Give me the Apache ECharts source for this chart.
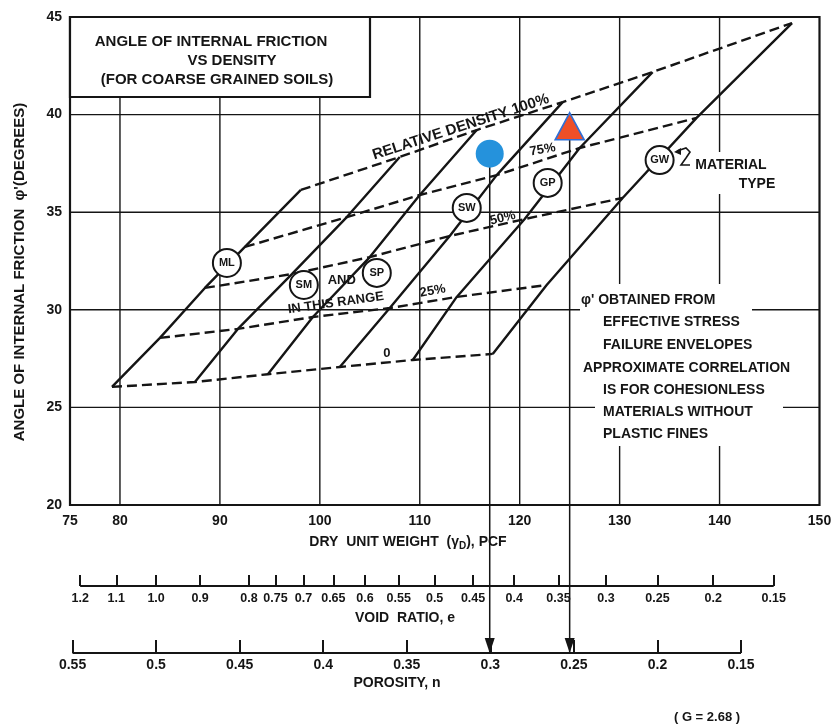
<!DOCTYPE html>
<html><head><meta charset="utf-8">
<script src="https://cdn.jsdelivr.net/npm/echarts@6/dist/echarts.min.js"></script>
<style>html,body{margin:0;padding:0;background:#fff}#c{width:831px;height:725px}</style>
</head><body><div id="c"></div>
<script>
// ---------------- data ----------------
const materials = ['ML', 'SM', 'SP', 'SW', 'GP', 'GW'];
// relative density lines (dry unit weight pcf, friction angle deg), one point per material
const rd0X   = [79.2, 87.5, 94.8, 102.0, 109.3, 117.3];
const rd0Y   = [26.05, 26.3, 26.7, 27.07, 27.43, 27.74];
const rd25X  = [84.0, 91.8, 99.3, 107.0, 113.7, 122.7];
const rd25Y  = [28.56, 29.02, 29.63, 30.09, 30.66, 31.27];
const rd50X  = [88.5, 97.2, 105.0, 113.0, 120.5, 130.3];
const rd50Y  = [31.12, 31.83, 32.7, 33.78, 34.65, 35.73];
const rd75X  = [92.5, 102.7, 110.0, 117.7, 126.0, 137.7];
const rd75Y  = [33.22, 34.75, 35.88, 36.9, 38.29, 39.83];
const rd100X = [98.1, 108.0, 115.7, 124.3, 133.3, 147.25];
const rd100Y = [36.14, 37.83, 39.21, 40.64, 42.18, 44.69];
// material label circles
const circleX = [90.7, 98.4, 105.7, 114.7, 122.8, 134.0];
const circleY = [32.4, 31.27, 31.89, 35.22, 36.5, 37.67];
// plotted test points: blue circle, red triangle
const pointX = [117.0, 125.0];
const pointY = [38.0, 39.4];
// in-plot annotations
const annotText = ['RELATIVE DENSITY 100%', '75%', '50%', '25%', '0', 'AND', 'IN THIS RANGE'];
const annotX = [114.1, 122.3, 118.3, 111.3, 106.7, 102.2, 101.6];
const annotY = [39.36, 38.2, 34.7, 30.96, 27.74, 31.5, 30.35];
const annotRot = [18, 10, 14, 10, 0, 0, 8];
// axes
const X_MIN = 75, X_MAX = 150, Y_MIN = 20, Y_MAX = 45;
const gridX = [80, 90, 100, 110, 120, 130, 140];
const gridY = [25, 30, 35, 40];
const voidRatioTicks  = [1.2, 1.1, 1.0, 0.9, 0.8, 0.75, 0.7, 0.65, 0.6, 0.55, 0.5, 0.45, 0.4, 0.35, 0.3, 0.25, 0.2, 0.15];
const voidRatioLabels = ['1.2','1.1','1.0','0.9','0.8','0.75','0.7','0.65','0.6','0.55','0.5','0.45','0.4','0.35','0.3','0.25','0.2','0.15'];
const porosityTicks  = [0.55, 0.5, 0.45, 0.4, 0.35, 0.3, 0.25, 0.2, 0.15];
const porosityLabels = ['0.55','0.5','0.45','0.4','0.35','0.3','0.25','0.2','0.15'];
const G = 2.68, GAMMA_W = 62.4;

// ---------------- drawing ----------------
const INK = '#151515';
const F = '"Liberation Sans", Arial, Helvetica, sans-serif';
const gammaFromE = e => G * GAMMA_W / (1 + e);
const gammaFromN = n => G * GAMMA_W * (1 - n);
const voidGamma = voidRatioTicks.map(gammaFromE);
const poroGamma = porosityTicks.map(gammaFromN);
const levelsX = [rd0X, rd25X, rd50X, rd75X, rd100X];
const levelsY = [rd0Y, rd25Y, rd50Y, rd75Y, rd100Y];

function lookup(vals, labels) {
  return v => { const i = vals.findIndex(g => Math.abs(g - v) < 1e-6); return i >= 0 ? labels[i] : ''; };
}

const series = [];
gridX.forEach(v => series.push({type:'line', xAxisIndex:0, yAxisIndex:0, data:[[v, Y_MIN], [v, Y_MAX]],
  symbol:'none', silent:true, z:1, lineStyle:{color:INK, width:1.4}}));
gridY.forEach(v => series.push({type:'line', xAxisIndex:0, yAxisIndex:0, data:[[X_MIN, v], [X_MAX, v]],
  symbol:'none', silent:true, z:1, lineStyle:{color:INK, width:1.4}}));
// material (solid) lines
materials.forEach((m, i) => series.push({type:'line', xAxisIndex:0, yAxisIndex:0,
  data: levelsX.map((lx, k) => [lx[i], levelsY[k][i]]), symbol:'none', z:3,
  lineStyle:{color:INK, width:2.4}}));
// relative density (dashed) lines
levelsX.forEach((lx, k) => series.push({type:'line', xAxisIndex:0, yAxisIndex:0,
  data: materials.map((m, i) => [lx[i], levelsY[k][i]]), symbol:'none', z:3,
  lineStyle:{color:INK, width:2.4, type:[10, 5]}}));
// material circles
series.push({type:'scatter', xAxisIndex:0, yAxisIndex:0, z:6,
  data: materials.map((m, i) => [circleX[i], circleY[i], m]),
  symbol:'circle', symbolSize:28, itemStyle:{color:'#fff', borderColor:INK, borderWidth:2, opacity:1},
  label:{show:true, position:'inside', formatter: p => p.data[2], color:INK, fontFamily:F,
    fontSize:11, fontWeight:'bold', textBorderWidth:0}});
// annotations
series.push({type:'scatter', xAxisIndex:0, yAxisIndex:0, z:7, silent:true,
  data: annotText.map((t, i) => ({value:[annotX[i], annotY[i]],
    label:{rotate:annotRot[i], formatter:t, fontSize: i === 0 ? 15 : 13}})),
  symbolSize:1, itemStyle:{color:'rgba(0,0,0,0)', opacity:1},
  label:{show:true, position:'inside', color:INK, opacity:1, fontFamily:F, fontWeight:'bold', textBorderWidth:0}});
// baselines of the void-ratio and porosity scales
series.push({type:'line', xAxisIndex:1, yAxisIndex:1, symbol:'none', z:3,
  data:[[voidGamma[0], 0], [voidGamma[voidGamma.length - 1], 0]], lineStyle:{color:INK, width:2.2}});
series.push({type:'line', xAxisIndex:2, yAxisIndex:2, symbol:'none', z:3,
  data:[[poroGamma[0], 0], [poroGamma[poroGamma.length - 1], 0]], lineStyle:{color:INK, width:2.2}});

const axisLabelStyle = {color:INK, fontFamily:F, fontWeight:'bold'};
function txt(text, x, y, extra, elExtra) {
  return Object.assign({type:'text', x:x, y:y, z:101, silent:true,
    style:Object.assign({text:text, font:'bold 14px ' + F, fill:INK,
      align:'center', verticalAlign:'middle', textAlign:'center', textVerticalAlign:'middle'}, extra || {})}, elExtra || {});
}
const graphics = [
  {type:'rect', z:100, silent:true, shape:{x:70, y:17, width:300, height:80}, style:{fill:'#fff', stroke:INK, lineWidth:2.2}},
  txt('ANGLE OF INTERNAL FRICTION', 211, 42, {font:'bold 15px ' + F}),
  txt('VS DENSITY', 232, 61, {font:'bold 15px ' + F}),
  txt('(FOR COARSE GRAINED SOILS)', 217, 80, {font:'bold 15px ' + F}),
  {type:'rect', z:100, silent:true, shape:{x:580, y:284, width:172, height:49}, style:{fill:'#fff'}},
  {type:'rect', z:100, silent:true, shape:{x:580, y:333, width:226, height:67}, style:{fill:'#fff'}},
  {type:'rect', z:100, silent:true, shape:{x:595, y:400, width:188, height:46}, style:{fill:'#fff'}},
  txt("\u03C6' OBTAINED FROM", 581, 300, {align:'left', textAlign:'left'}),
  txt('EFFECTIVE STRESS', 603, 322, {align:'left', textAlign:'left'}),
  txt('FAILURE ENVELOPES', 603, 345, {align:'left', textAlign:'left'}),
  txt('APPROXIMATE CORRELATION', 583, 368, {align:'left', textAlign:'left'}),
  txt('IS FOR COHESIONLESS', 603, 390, {align:'left', textAlign:'left'}),
  txt('MATERIALS WITHOUT', 603, 412, {align:'left', textAlign:'left'}),
  txt('PLASTIC FINES', 603, 434, {align:'left', textAlign:'left'}),
  {type:'rect', z:100, silent:true, shape:{x:690, y:152, width:90, height:42}, style:{fill:'#fff'}},
  txt('MATERIAL', 731, 165),
  txt('TYPE', 757, 184),
  {type:'polyline', z:101, silent:true, shape:{points:[[677,151],[686,148],[690,152],[686,158],[681,165],[690,165]]},
    style:{fill:null, stroke:INK, lineWidth:1.6}},
  {type:'polygon', z:101, silent:true, shape:{points:[[674,152],[681,148],[681,155]]}, style:{fill:INK}},
  txt('DRY  UNIT WEIGHT  (\u03B3{s|D}), PCF', 408, 542, {rich:{s:{font:'bold 10px ' + F, padding:[8, 0, 0, 0]}}}),
  txt('VOID  RATIO, e', 405, 618),
  txt('POROSITY, n', 397, 683),
  txt('( G = 2.68 )', 707, 717, {font:'bold 13px ' + F}),
  txt("ANGLE OF INTERNAL FRICTION  \u03C6'(DEGREES)", 20, 272, {font:'bold 15px ' + F}, {rotation: Math.PI / 2})
];

const option = {
  animation:false,
  backgroundColor:'#fff',
  grid:[
    {left:70, top:17, width:749.5, height:488, show:true, borderColor:INK, borderWidth:2.2, backgroundColor:'rgba(0,0,0,0)', outerBoundsMode:'none'},
    {left:70, top:575, width:749.5, height:11, outerBoundsMode:'none'},
    {left:70, top:641, width:749.5, height:12, outerBoundsMode:'none'}
  ],
  xAxis:[
    {gridIndex:0, type:'value', min:X_MIN, max:X_MAX, interval:5,
      axisLine:{show:false}, axisTick:{show:false}, splitLine:{show:false},
      axisLabel:Object.assign({fontSize:14, margin:9, hideOverlap:false,
        formatter: v => (v === X_MIN || v % 10 === 0) ? String(v) : ''}, axisLabelStyle)},
    {gridIndex:1, type:'value', min:X_MIN, max:X_MAX,
      axisLine:{show:false, onZero:false}, splitLine:{show:false},
      axisTick:{show:true, inside:true, length:11, customValues:voidGamma, lineStyle:{color:INK, width:2}},
      axisLabel:Object.assign({fontSize:12.5, margin:6, hideOverlap:false, customValues:voidGamma,
        formatter: lookup(voidGamma, voidRatioLabels)}, axisLabelStyle)},
    {gridIndex:2, type:'value', min:X_MIN, max:X_MAX,
      axisLine:{show:false, onZero:false}, splitLine:{show:false},
      axisTick:{show:true, inside:true, length:13, customValues:poroGamma, lineStyle:{color:INK, width:2}},
      axisLabel:Object.assign({fontSize:14, margin:5, hideOverlap:false, customValues:poroGamma,
        formatter: lookup(poroGamma, porosityLabels)}, axisLabelStyle)}
  ],
  yAxis:[
    {gridIndex:0, type:'value', min:Y_MIN, max:Y_MAX, interval:5,
      axisLine:{show:false}, axisTick:{show:false}, splitLine:{show:false},
      axisLabel:Object.assign({fontSize:14, margin:8}, axisLabelStyle)},
    {gridIndex:1, type:'value', min:0, max:1, show:false},
    {gridIndex:2, type:'value', min:0, max:1, show:false}
  ],
  graphic:{elements:graphics},
  series:series
};

const chart = echarts.init(document.getElementById('c'));
chart.setOption(option);

// arrows from the test points down to the porosity scale
const basePix = chart.convertToPixel({xAxisIndex:2, yAxisIndex:2}, [poroGamma[0], 0]);
const yEnd = chart.convertFromPixel({xAxisIndex:0, yAxisIndex:0}, [0, basePix[1]])[1];
pointX.forEach((x, i) => series.push({type:'line', xAxisIndex:0, yAxisIndex:0, clip:false, z:4,
  symbol:'none', showSymbol:true,
  data:[{value:[x, pointY[i]], symbol:'none'},
        {value:[x, yEnd], symbol:'triangle', symbolSize:[10, 15], symbolRotate:180, symbolOffset:[0, -7.5],
         itemStyle:{color:INK}}],
  lineStyle:{color:INK, width:1.5}}));
// test points on top
series.push({type:'scatter', xAxisIndex:0, yAxisIndex:0, z:8,
  data:[[pointX[0], pointY[0]]], symbol:'circle', symbolSize:28, itemStyle:{color:'#2592dc', opacity:1}});
series.push({type:'scatter', xAxisIndex:0, yAxisIndex:0, z:8,
  data:[[pointX[1], pointY[1]]], symbol:'triangle', symbolSize:[29, 27],
  itemStyle:{color:'#ef4f28', borderColor:'#2f6fd6', borderWidth:1.6, opacity:1}});
chart.setOption({series:series});
</script></body></html>
